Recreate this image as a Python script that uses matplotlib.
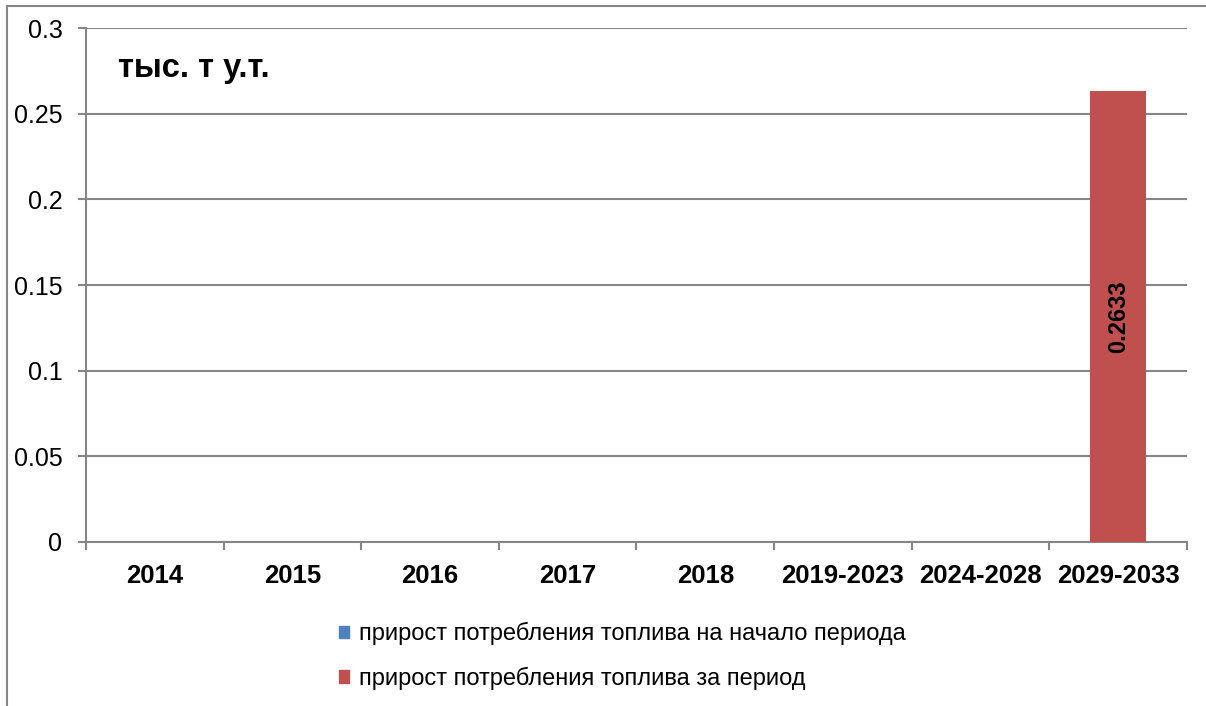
import matplotlib
matplotlib.use('Agg')
import numpy as np
import matplotlib.pyplot as plt
from matplotlib.lines import Line2D
from matplotlib.patches import Patch

plt.rcParams['font.family'] = ['Liberation Sans', 'DejaVu Sans']

categories = ['2014', '2015', '2016', '2017', '2018', '2019-2023', '2024-2028', '2029-2033']
start_growth = [0, 0, 0, 0, 0, 0, 0, 0]
period_growth = [0, 0, 0, 0, 0, 0, 0, 0.2633]
series_names = ['прирост потребления топлива на начало периода',
                'прирост потребления топлива за период']
unit_label = 'тыс. т у.т.'
yticks = [0, 0.05, 0.1, 0.15, 0.2, 0.25, 0.3]
ytick_labels = ['0', '0.05', '0.1', '0.15', '0.2', '0.25', '0.3']

blue = '#4F81BD'
red = '#C0504D'
gray = '#868686'

fig = plt.figure(figsize=(12.06, 7.06), dpi=100)
ax = fig.add_axes([0.0713, 0.2323, 0.9129, 0.728])

x = np.arange(len(categories))
w = 0.41
ax.bar(x, start_growth, width=w, color=blue, zorder=3)
ax.bar(x, period_growth, width=w, color=red, zorder=3)

for xi, v in zip(x, period_growth):
    if v > 0:
        ax.text(xi, v / 2, f'{v:.4f}', rotation=90, ha='center', va='center',
                fontsize=17, fontweight='bold', zorder=4)

ax.set_xlim(-0.5, len(categories) - 0.5)
ax.set_ylim(0, 0.3)
ax.set_yticks(yticks)
ax.set_yticklabels(ytick_labels, fontsize=18)
ax.set_xticks(x)
ax.set_xticklabels(categories, fontsize=18.5, fontweight='bold')
ax.set_xticks(np.arange(len(categories) + 1) - 0.5, minor=True)
ax.tick_params(axis='x', which='major', length=0, pad=16)
ax.tick_params(axis='x', which='minor', length=6, color=gray, width=1.5, direction='out')
ax.tick_params(axis='y', length=6, color=gray, width=1.5, pad=11)

ax.yaxis.grid(True, color=gray, linewidth=1.5, zorder=0)
ax.set_axisbelow(True)
for s in ['top', 'right']:
    ax.spines[s].set_visible(False)
for s in ['left', 'bottom']:
    ax.spines[s].set_color(gray)
    ax.spines[s].set_linewidth(1.5)

fig.text(118 / 1206, 1 - 68 / 706, unit_label, fontsize=23.5, fontweight='bold', va='center')

# legend
handles = [Patch(color=blue), Patch(color=red)]
fig.legend(handles, series_names, loc='center', bbox_to_anchor=(622 / 1206, 1 - 656 / 706),
           frameon=False, fontsize=17, handlelength=0.45, handleheight=0.45,
           handletextpad=0.4, labelspacing=0.9)

# outer chart border (left and top)
fig.add_artist(Line2D([7 / 1206, 7 / 1206], [0, 1 - 6 / 706], transform=fig.transFigure,
                      color=gray, linewidth=1.5))
fig.add_artist(Line2D([7 / 1206, 1], [1 - 6 / 706, 1 - 6 / 706], transform=fig.transFigure,
                      color=gray, linewidth=1.5))

fig.savefig('out.png', dpi=100)
